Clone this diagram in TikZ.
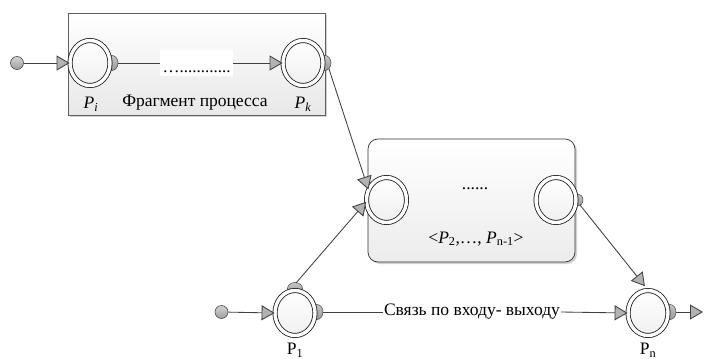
\documentclass[tikz,border=0pt]{standalone}
\usepackage{fontspec}
\setmainfont{Liberation Serif}
\newfontfamily\tnr{Liberation Serif}
\usetikzlibrary{arrows.meta,shapes.geometric,shadows,calc}
\begin{document}
\begin{tikzpicture}[x=1pt,y=-1pt,
  line/.style={draw=black!75, line width=0.85pt},
  arr/.style={line, -{Triangle[length=13pt,width=15pt,fill=gray!60]}},
  place/.style={ellipse, draw=black!90, line width=0.8pt, double=white, double distance=3.4pt,
    minimum width=40pt, minimum height=45pt, inner sep=0pt, top color=white, bottom color=gray!12},
  port/.style={draw=black!70, line width=0.5pt, top color=gray!45, bottom color=gray!80},
  srcdot/.style={circle, draw=black!70, line width=0.6pt, top color=gray!35, bottom color=gray!75,
    minimum size=13pt, inner sep=0pt},
  lbl/.style={font=\tnr\fontsize{17.5}{20}\selectfont, inner sep=1pt},
  boxshadow/.style={drop shadow={shadow xshift=2pt, shadow yshift=-2pt, fill=gray!70, opacity=0.5}},
]
\useasboundingbox (0,0) rectangle (713,359);
\coordinate (cPi) at (90,63);
\coordinate (cPk) at (303,63);
\coordinate (cML) at (386.5,200);
\coordinate (cMR) at (556,200);
\coordinate (cP1) at (295,313);
\coordinate (cPn) at (648,313);

% boxes
\node[draw=gray!75!black, line width=0.7pt, top color=white, bottom color=gray!18,
  minimum width=257pt, minimum height=102pt, boxshadow] (frag) at (196.5,64) {};
\node[draw=black!80, line width=0.7pt, rounded corners=10pt, top color=white, bottom color=gray!15,
  minimum width=207pt, minimum height=123pt, boxshadow] (sub) at (471.5,200.5) {};

% ports
\path[port] ($(cPi)+(22,0)$) ellipse[x radius=6, y radius=7.5];
\path[port] ($(cPk)+(22,0)$) ellipse[x radius=6, y radius=7.5];
\path[port] ($(cMR)+(22,0)$) ellipse[x radius=5, y radius=6];
\path[port] ($(cP1)+(22,-1)$) ellipse[x radius=6, y radius=7.5];
\path[port] ($(cP1)+(0,-24.5)$) ellipse[x radius=7.5, y radius=6];
\path[port] ($(cPn)+(22,-1)$) ellipse[x radius=6, y radius=7.5];

% places
\node[place] (Pi) at (cPi) {};
\node[place] (Pk) at (cPk) {};
\node[place] (ML) at (cML) {};
\node[place] (MR) at (cMR) {};
\node[place] (P1) at (cP1) {};
\node[place] (Pn) at (cPn) {};

% labels
\node[lbl] (Pilab) at (91,104) {\textit{P\textsubscript{i}}};
\node[lbl] (fraglab) at (195,103) {Фрагмент процесса};
\node[lbl] (Pklab) at (303,104) {\textit{P\textsubscript{k}}};
\node[lbl] (subdots) at (475,189) {......};
\node[lbl] (sublab) at (476,239) {<\textit{P}\textsubscript{2},…, \textit{P}\textsubscript{n-1}>};
\node[lbl] (P1lab) at (295,350) {P\textsubscript{1}};
\node[lbl] (Pnlab) at (648,350) {P\textsubscript{n}};

% top chain
\node[srcdot] (s1) at (17,63) {};
\draw[arr] (s1) -- (Pi.west);
\node[fill=white, inner sep=0pt, minimum width=73pt, minimum height=26pt, text height=18pt,
  text depth=0pt, font=\tnr\fontsize{17}{20}\selectfont] (ddots) at (196.5,63) {…............};
\draw[line] ($(cPi)+(28,0)$) -- (ddots.west);
\draw[arr] (ddots.east) -- (Pk.west);

% to subprocess
\draw[arr] ($(cPk)+(26,6)$) -- (ML.150);
\draw[arr] ($(cP1)+(1,-30)$) -- (ML.185);
\draw[arr, shorten >=5pt] ($(cMR)+(24,5)$) -- (Pn.north);

% bottom chain
\node[srcdot] (s2) at (221.5,312) {};
\draw[arr] (s2) -- (P1.west);
\node[lbl] (link) at (472,312) {Связь по входу- выходу};
\draw[line] ($(cP1)+(28,-1)$) -- (link.west);
\draw[arr] (link.east) -- (Pn.west);
\coordinate (out) at (703,312);
\draw[arr] ($(cPn)+(28,-1)$) -- (out);
\end{tikzpicture}
\end{document}
